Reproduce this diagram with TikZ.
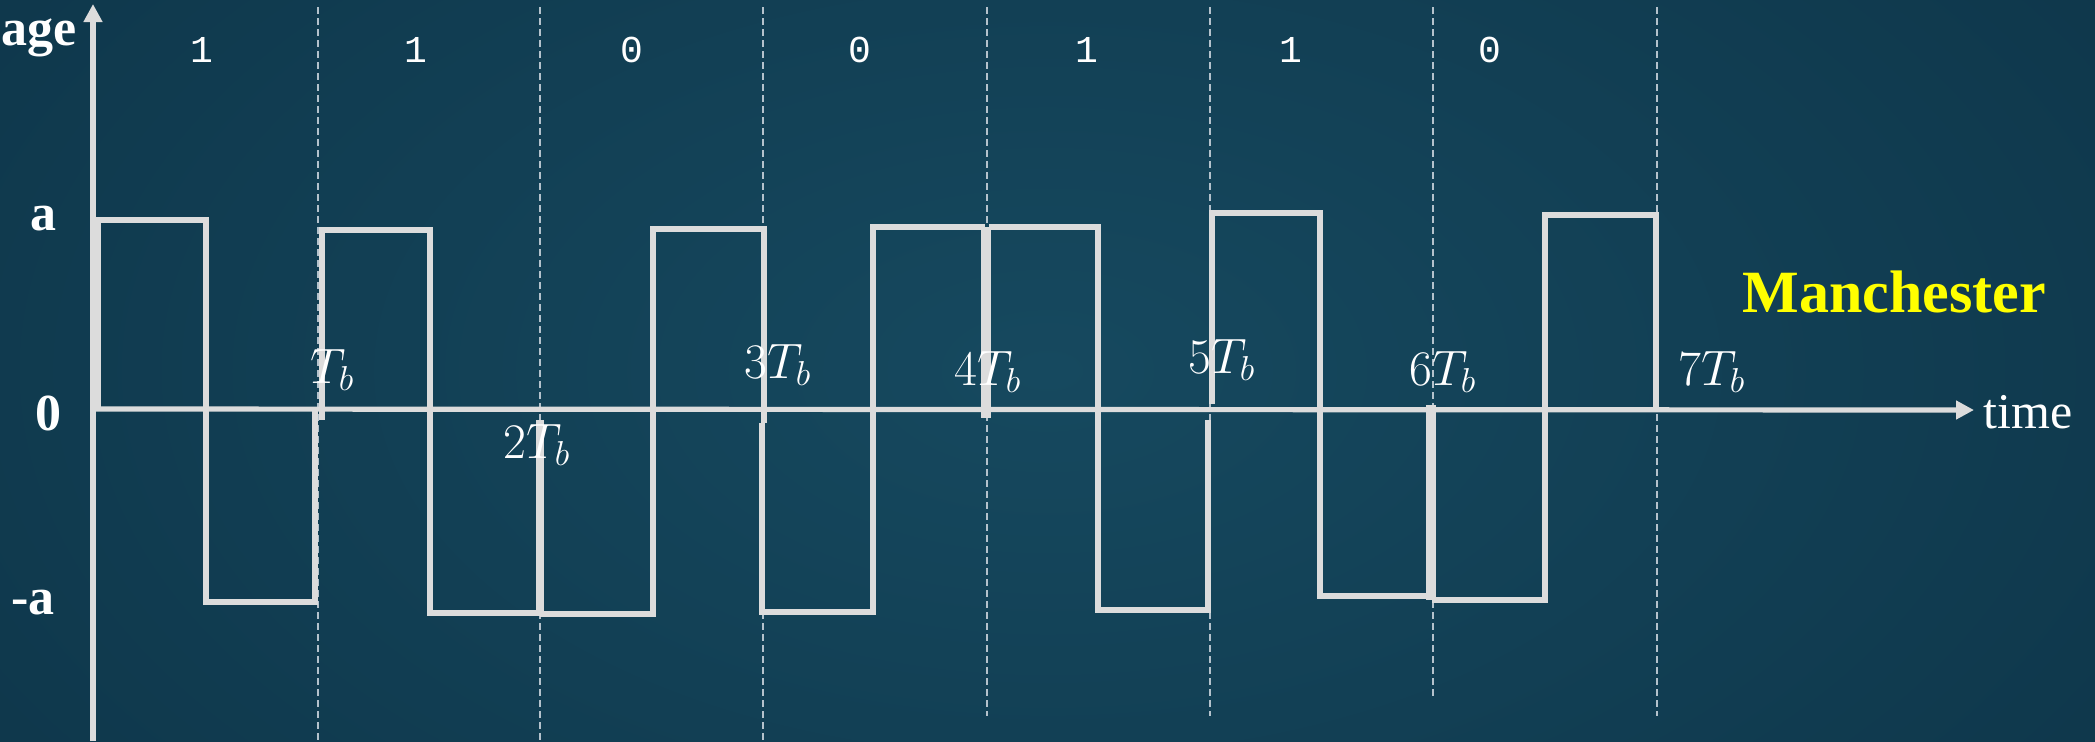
\documentclass[tikz,border=0pt]{standalone}
\usepackage{fontspec}
\setmainfont{Liberation Serif}
\newfontfamily\monofnt{Liberation Mono}
\usetikzlibrary{arrows.meta}
\definecolor{bgin}{HTML}{16495F}
\definecolor{bgout}{HTML}{0E364A}
\definecolor{wave}{HTML}{DCDCDC}
\definecolor{grid}{HTML}{B4C2CC}
\definecolor{ylw}{HTML}{FFFF00}
\tikzset{
  wavestyle/.style={draw=wave, line width=2.6pt, line join=miter},
  thickedge/.style={draw=wave, line width=4.2pt},
  axisline/.style={draw=wave, line width=2.6pt, -{Triangle[length=9pt,width=9pt]}},
  gridline/.style={draw=grid, line width=0.6pt, dash pattern=on 3.5pt off 2pt},
  lvl/.style={text=white, font=\fontsize{26}{26}\selectfont\bfseries, inner sep=0pt},
  bit/.style={text=white, font=\fontsize{19}{19}\selectfont\monofnt, inner sep=0pt},
  tlab/.style={text=white, font=\fontsize{23}{23}\selectfont, inner sep=0pt, anchor=base west},
}
\begin{document}
\begin{tikzpicture}[x=0.5pt, y=-0.5pt]
\useasboundingbox (0,0) rectangle (2095,741);
\shade[inner color=bgin, outer color=bgout] (-300,-400) rectangle (2395,1141);
% grid lines
\draw[gridline] (318,7) -- (318,741);
\draw[gridline] (540,7) -- (540,741);
\draw[gridline] (763,7) -- (763,741);
\draw[gridline] (987,7) -- (987,716);
\draw[gridline] (1210,7) -- (1210,716);
\draw[gridline] (1433,7) -- (1433,697);
\draw[gridline] (1657,7) -- (1657,716);
% axes
\coordinate (yb) at (93,741);
\coordinate (yt) at (93,4);
\coordinate (xl) at (93,409);
\coordinate (xr) at (1974,410);
\draw[axisline] (yb) -- (yt);
\draw[axisline] (xl) -- (xr);
% waveform
\draw[thickedge] (97,409) -- (97,220);
\draw[wavestyle] (96,220) -- (206,220) -- (206,602) -- (315,602) -- (315,409);
\draw[wavestyle] (322,420) -- (322,230) -- (430,230) -- (430,613) -- (540,613);
\draw[thickedge] (540,420) -- (540,614);
\draw[wavestyle] (540,614) -- (653,614) -- (653,229) -- (764,229) -- (764,423);
\draw[wavestyle] (762,423) -- (762,612) -- (873,612) -- (873,227) -- (985,227);
\draw[draw=wave, line width=4.6pt] (986,227) -- (986,418);
\draw[wavestyle] (989,227) -- (1098,227) -- (1098,610) -- (1208,610) -- (1208,420);
\draw[wavestyle] (1212,404) -- (1212,213) -- (1320,213) -- (1320,596) -- (1429,596);
\draw[draw=wave, line width=4.6pt] (1431,405) -- (1431,600);
\draw[wavestyle] (1432,600) -- (1545,600) -- (1545,215) -- (1656,215) -- (1656,409);
% left labels
\node[lvl, anchor=base west] (lage) at (1,45) {age};
\node[lvl, anchor=base east] (la) at (57,230) {a};
\node[lvl, anchor=base east] (lz) at (62,430) {0};
\node[lvl, anchor=base east] (lma) at (55,614) {-a};
% bits
\node[bit] (b1) at (202,50) {1};
\node[bit] (b2) at (416,50) {1};
\node[bit] (b3) at (632,50) {0};
\node[bit] (b4) at (860,50) {0};
\node[bit] (b5) at (1087,50) {1};
\node[bit] (b6) at (1291,50) {1};
\node[bit] (b7) at (1490,50) {0};
% Tb labels
\node[tlab] (t1) at (310,383) {$T_b$};
\node[tlab] (t2) at (503,458) {$2T_b$};
\node[tlab] (t3) at (744,378) {$3T_b$};
\node[tlab] (t4) at (954,385) {$4T_b$};
\node[tlab] (t5) at (1188,373) {$5T_b$};
\node[tlab] (t6) at (1409,385) {$6T_b$};
\node[tlab] (t7) at (1678,385) {$7T_b$};
% captions
\node[text=white, font=\fontsize{25}{25}\selectfont, inner sep=0pt, anchor=base west] (time) at (1983,428) {time};
\node[text=ylw, font=\fontsize{30}{30}\selectfont\bfseries, inner sep=0pt, anchor=base west] (man) at (1742,312) {Manchester};
\end{tikzpicture}
\end{document}
